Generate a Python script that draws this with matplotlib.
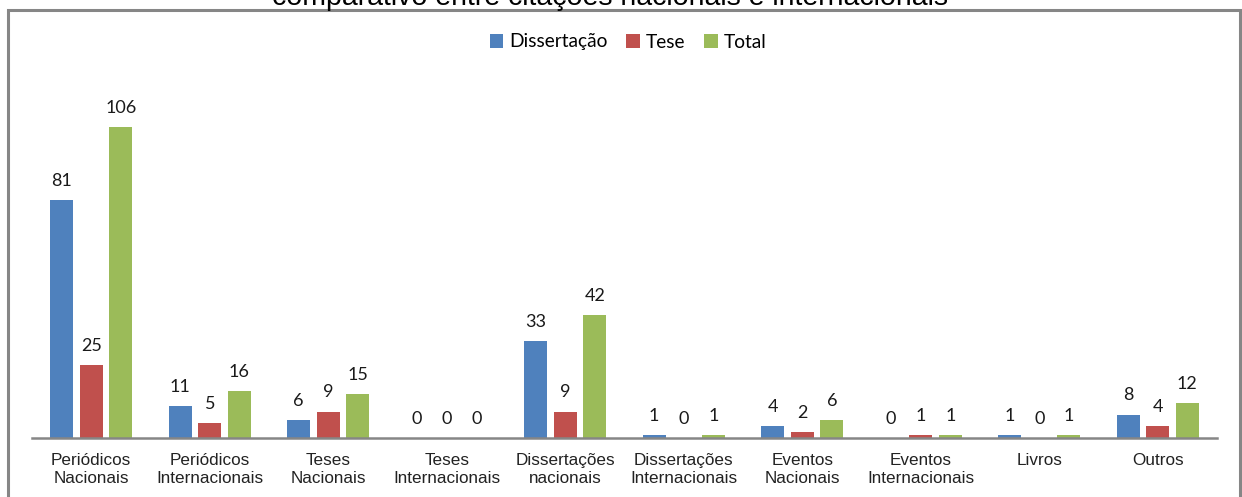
import matplotlib

matplotlib.use("Agg")

import matplotlib.pyplot as plt
from matplotlib.patches import Rectangle
import numpy as np

categories = [
    "Periódicos\nNacionais",
    "Periódicos\nInternacionais",
    "Teses\nNacionais",
    "Teses\nInternacionais",
    "Dissertações\nnacionais",
    "Dissertações\nInternacionais",
    "Eventos\nNacionais",
    "Eventos\nInternacionais",
    "Livros",
    "Outros",
]
dissertacao = [81, 11, 6, 0, 33, 1, 4, 0, 1, 8]
tese = [25, 5, 9, 0, 9, 0, 2, 1, 0, 4]
total = [106, 16, 15, 0, 42, 1, 6, 1, 1, 12]

series = [
    ("Dissertação", dissertacao, "#4F81BD"),
    ("Tese", tese, "#C0504D"),
    ("Total", total, "#9BBB59"),
]

W, H = 1242, 497
fig = plt.figure(figsize=(W / 100, H / 100), dpi=100)
fig.patch.set_facecolor("white")

# plot area in pixel terms: x 32..1217, baseline at y=438, top at y=86
ax = fig.add_axes([32 / W, (H - 438) / H, (1217 - 32) / W, (438 - 86) / H])

x = np.arange(len(categories))
bar_w = 0.195
step = 0.25
for i, (name, vals, color) in enumerate(series):
    pos = x + (i - 1) * step
    bars = ax.bar(pos, vals, width=bar_w, color=color, label=name, zorder=2)
    for b, v in zip(bars, vals):
        ax.annotate(str(v), (b.get_x() + b.get_width() / 2, v),
                    xytext=(0, 8), textcoords="offset points",
                    ha="center", va="bottom", fontsize=13,
                    family=["Lato", "DejaVu Sans"], color="#1a1a1a")

ax.set_xlim(-0.5, len(categories) - 0.5)
ax.set_ylim(0, 120)
ax.set_xticks(x)
ax.set_xticklabels(categories, fontsize=12.3, family="Liberation Sans",
                   color="#222222", linespacing=1.2)
ax.tick_params(axis="x", length=0, pad=11)
ax.set_yticks([])
for side in ("left", "right", "top"):
    ax.spines[side].set_visible(False)
ax.spines["bottom"].set_color("#868686")
ax.spines["bottom"].set_linewidth(1.8)

leg = fig.legend(loc="center", bbox_to_anchor=(628 / W, 1 - 42 / H), ncol=3,
                 frameon=False, handlelength=0.7, handleheight=0.7,
                 handletextpad=0.3, columnspacing=1.0,
                 prop={"family": ["Lato", "DejaVu Sans"], "size": 13.8})

# outer chart frame, bottom edge falls below the canvas
fig.patches.append(Rectangle((8 / W, -0.1), (1240 - 8) / W, 1.1 - 10 / H,
                             transform=fig.transFigure, fill=False,
                             edgecolor="#868686", linewidth=2.2))

fig.text(610 / W, 1 - 5 / H, "comparativo entre citações nacionais e internacionais",
         ha="center", va="baseline", fontsize=20.5, family="Liberation Sans",
         color="black")

fig.savefig("out.png", dpi=100)
